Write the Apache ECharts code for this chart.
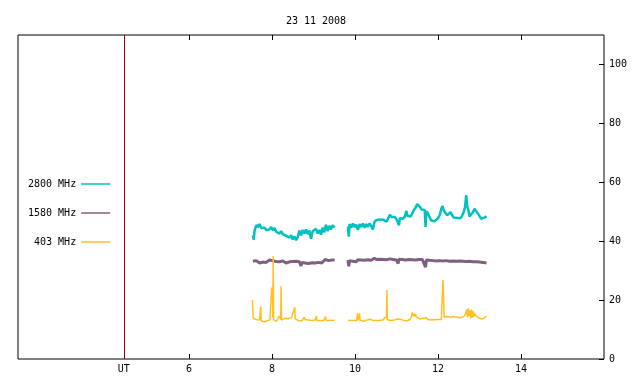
<!DOCTYPE html>
<html>
<head>
<meta charset="utf-8">
<script src="https://cdn.jsdelivr.net/npm/echarts@6/dist/echarts.min.js"></script>
<style>
html, body { margin: 0; padding: 0; background: #fff; }
#chart { width: 640px; height: 384px; }
</style>
</head>
<body>
<div id="chart"></div>
<script>
// hours UT, flux values
var title = "23 11 2008";
var names = ["2800 MHz", "1580 MHz", "403 MHz"];
var xTicks = [6, 8, 10, 12, 14];
var yTicks = [0, 20, 40, 60, 80, 100];
var utHour = 4.43;

var cyan1 = [[7.54,42.0],[7.56,40.5],[7.58,43.5],[7.60,44.5],[7.63,45.5],[7.66,44.8],[7.70,45.8],[7.74,44.5],[7.78,44.0],[7.82,44.6],[7.86,43.8],[7.90,44.4],[7.94,44.0],[7.98,44.8],[8.02,43.6],[8.06,44.5],[8.10,43.2],[8.14,43.8],[8.18,42.6],[8.22,43.4],[8.26,42.4],[8.30,42.8],[8.34,41.8],[8.38,42.4],[8.42,41.2],[8.46,42.0],[8.50,40.6],[8.54,41.6],[8.58,40.3],[8.62,41.4],[8.66,43.6],[8.70,42.0],[8.74,43.8],[8.78,42.6],[8.82,44.0],[8.86,42.4],[8.90,43.6],[8.94,40.8],[8.98,43.4],[9.02,43.0],[9.06,44.2],[9.10,42.6],[9.14,43.8],[9.18,42.2],[9.22,44.6],[9.26,43.0],[9.30,45.6],[9.34,43.4],[9.38,45.2],[9.42,44.0],[9.46,45.4],[9.51,44.6]];
var cyan2 = [[9.83,45.0],[9.85,41.5],[9.87,45.8],[9.91,44.6],[9.95,46.0],[9.99,44.8],[10.03,45.6],[10.07,43.8],[10.11,45.8],[10.15,44.8],[10.19,46.0],[10.23,44.6],[10.27,45.8],[10.31,44.9],[10.35,46.0],[10.39,45.2],[10.43,44.0],[10.47,46.6],[10.52,47.2],[10.56,46.6],[10.60,47.4],[10.64,46.8],[10.68,47.3],[10.72,47.0],[10.76,46.6],[10.80,47.8],[10.84,49.0],[10.88,48.2],[10.92,47.6],[10.96,48.2],[11.00,47.4],[11.04,48.0],[11.06,45.4],[11.08,47.8],[11.12,48.2],[11.16,47.6],[11.20,48.4],[11.24,50.3],[11.26,48.6],[11.30,49.0],[11.34,48.4],[11.38,49.4],[11.42,50.6],[11.46,51.4],[11.50,52.6],[11.54,53.0],[11.57,51.6],[11.60,50.8],[11.64,50.2],[11.68,50.6],[11.70,44.8],[11.72,50.2],[11.76,49.4],[11.80,48.0],[11.84,47.0],[11.88,47.6],[11.92,46.8],[11.96,47.4],[12.00,47.8],[12.04,48.8],[12.08,51.0],[12.11,51.9],[12.14,50.4],[12.18,49.6],[12.22,48.8],[12.26,49.4],[12.30,49.9],[12.34,48.8],[12.38,48.0],[12.42,47.6],[12.46,47.9],[12.50,47.4],[12.54,47.8],[12.58,48.6],[12.62,49.9],[12.65,51.4],[12.68,55.6],[12.70,52.2],[12.73,50.6],[12.76,48.4],[12.80,48.8],[12.84,49.8],[12.88,51.0],[12.92,50.2],[12.96,49.6],[13.00,48.6],[13.04,47.6],[13.08,47.2],[13.12,48.0],[13.17,48.4]];

var purple1 = [[7.54,33.2],[7.58,32.8],[7.62,33.4],[7.66,33.0],[7.70,32.6],[7.74,33.2],[7.78,32.9],[7.82,33.3],[7.86,32.8],[7.90,33.0],[7.94,33.6],[7.98,33.9],[8.02,33.4],[8.06,33.8],[8.10,33.1],[8.14,32.6],[8.18,33.0],[8.22,32.8],[8.26,33.3],[8.30,33.0],[8.34,32.6],[8.38,33.2],[8.42,33.0],[8.46,32.5],[8.50,33.1],[8.54,32.7],[8.58,33.2],[8.62,32.6],[8.66,33.0],[8.70,31.6],[8.72,32.8],[8.76,33.1],[8.80,32.6],[8.84,33.0],[8.88,32.4],[8.92,33.0],[8.96,32.7],[9.00,33.2],[9.04,32.6],[9.08,33.0],[9.12,32.8],[9.16,33.2],[9.20,32.6],[9.24,33.0],[9.28,33.8],[9.32,34.0],[9.36,33.4],[9.40,33.9],[9.44,33.6],[9.48,34.0],[9.51,33.6]];
var purple2 = [[9.83,33.6],[9.85,31.5],[9.87,33.4],[9.91,33.8],[9.95,33.2],[9.99,33.6],[10.03,33.0],[10.07,33.7],[10.11,33.2],[10.15,33.6],[10.19,33.0],[10.23,33.5],[10.27,33.2],[10.31,33.7],[10.35,33.1],[10.39,33.5],[10.43,34.0],[10.47,34.2],[10.52,33.8],[10.56,34.1],[10.60,33.9],[10.64,34.2],[10.68,33.8],[10.72,34.1],[10.76,33.7],[10.80,34.2],[10.84,34.0],[10.88,34.3],[10.92,33.8],[10.96,34.1],[11.00,33.6],[11.04,32.4],[11.06,33.9],[11.10,34.2],[11.14,33.8],[11.18,34.0],[11.22,33.6],[11.26,34.1],[11.30,33.8],[11.34,34.2],[11.38,33.7],[11.42,34.0],[11.46,33.6],[11.50,34.1],[11.54,33.8],[11.58,33.4],[11.62,33.8],[11.66,33.3],[11.70,31.2],[11.72,33.6],[11.76,33.2],[11.80,33.5],[11.84,33.0],[11.88,33.4],[11.92,32.8],[11.96,33.3],[12.00,33.0],[12.04,33.4],[12.08,32.9],[12.12,33.3],[12.16,33.0],[12.20,33.4],[12.24,32.8],[12.28,33.2],[12.32,33.0],[12.36,33.3],[12.40,32.8],[12.44,33.2],[12.48,32.9],[12.52,33.3],[12.56,33.0],[12.60,33.2],[12.64,32.7],[12.68,33.1],[12.72,32.9],[12.76,33.2],[12.80,32.8],[12.84,33.0],[12.88,32.6],[12.92,33.0],[12.96,32.7],[13.00,32.9],[13.04,32.5],[13.08,32.8],[13.12,32.4],[13.17,32.6]];

var orange1 = [[7.53,20.0],[7.545,14.0],[7.57,13.6],[7.61,13.4],[7.65,13.6],[7.70,13.2],[7.72,16.8],[7.73,17.8],[7.74,13.0],[7.78,12.8],[7.82,12.6],[7.84,12.4],[7.87,12.9],[7.91,13.1],[7.95,13.3],[7.98,13.6],[7.99,23.6],[8.01,24.4],[8.02,14.0],[8.03,35.0],[8.04,13.4],[8.07,13.0],[8.11,12.8],[8.14,13.2],[8.17,14.6],[8.19,14.8],[8.21,13.4],[8.22,24.7],[8.23,13.2],[8.27,13.6],[8.31,13.8],[8.35,13.9],[8.39,13.7],[8.43,13.6],[8.47,14.0],[8.51,13.8],[8.55,17.6],[8.56,13.6],[8.60,13.2],[8.64,13.0],[8.68,13.1],[8.72,13.0],[8.76,13.6],[8.78,14.2],[8.80,13.4],[8.84,13.0],[8.88,13.2],[8.92,13.0],[8.96,13.1],[9.00,12.9],[9.04,13.2],[9.07,14.6],[9.08,13.1],[9.12,13.0],[9.16,13.1],[9.20,12.9],[9.24,13.0],[9.29,14.4],[9.30,13.2],[9.35,13.1],[9.40,13.2],[9.45,13.1],[9.51,13.2]];
var orange2 = [[9.83,13.2],[9.85,12.6],[9.88,13.1],[9.92,13.2],[9.96,13.1],[10.00,13.2],[10.04,13.1],[10.06,15.5],[10.07,13.2],[10.11,15.5],[10.12,13.2],[10.16,13.1],[10.20,12.8],[10.24,13.1],[10.28,13.2],[10.32,13.1],[10.36,13.5],[10.40,13.2],[10.44,13.1],[10.48,13.2],[10.52,13.1],[10.56,13.2],[10.60,13.1],[10.64,13.2],[10.68,13.3],[10.71,14.0],[10.76,14.2],[10.77,23.4],[10.78,13.3],[10.82,13.2],[10.86,13.1],[10.90,13.3],[10.94,13.2],[10.98,13.4],[11.02,13.6],[11.06,14.2],[11.08,13.5],[11.12,13.4],[11.16,13.2],[11.20,13.4],[11.24,12.9],[11.28,13.2],[11.32,13.4],[11.36,14.2],[11.38,15.8],[11.40,14.6],[11.42,15.4],[11.44,14.4],[11.46,15.2],[11.48,14.2],[11.52,14.6],[11.56,13.6],[11.60,13.3],[11.64,13.8],[11.68,13.4],[11.72,14.0],[11.76,13.3],[11.80,13.6],[11.84,13.4],[11.88,13.9],[11.92,13.3],[11.96,13.5],[12.00,13.4],[12.04,13.6],[12.08,13.4],[12.11,14.0],[12.12,26.8],[12.14,26.6],[12.15,14.2],[12.18,13.8],[12.22,14.4],[12.26,13.9],[12.30,14.2],[12.34,13.8],[12.38,14.4],[12.42,13.9],[12.46,14.2],[12.50,13.8],[12.54,14.0],[12.58,13.7],[12.62,14.4],[12.66,15.2],[12.69,16.8],[12.71,14.2],[12.73,17.2],[12.75,14.6],[12.77,16.4],[12.79,13.8],[12.81,16.8],[12.83,14.0],[12.85,16.2],[12.87,14.4],[12.89,15.4],[12.92,14.6],[12.96,14.2],[13.00,13.8],[13.04,13.2],[13.08,13.6],[13.12,13.8],[13.17,14.6]];

var gap = [[9.66, '-']];
var colors = ['#00c0c0', '#806080', '#ffc020'];
var widths = [2.5, 3, 1.5];
var FONT = 'DejaVu Sans Mono';

function mkSeries(i, data, extra) {
    var s = {
        name: names[i],
        type: 'line',
        data: data,
        symbol: 'none',
        connectNulls: false,
        color: colors[i],
        lineStyle: { width: widths[i], color: colors[i] },
        emphasis: { disabled: true },
        z: 3
    };
    if (extra) s.markLine = extra;
    return s;
}

var chart = echarts.init(document.getElementById('chart'));
chart.setOption({
    animation: false,
    backgroundColor: '#fff',
    textStyle: { fontFamily: FONT },
    title: {
        text: title,
        left: 311,
        textAlign: 'center',
        top: 11,
        textStyle: { fontFamily: FONT, fontSize: 10, fontWeight: 'normal', color: '#000' }
    },
    legend: {
        data: names,
        orient: 'vertical',
        align: 'right',
        left: 28,
        top: 179,
        padding: 0,
        icon: 'rect',
        itemWidth: 29,
        itemHeight: 1.5,
        itemGap: 19,
        formatter: function (n) { return ('        ' + n).slice(-8); },
        textStyle: { fontFamily: FONT, fontSize: 10, color: '#000' },
        selectedMode: false
    },
    grid: {
        left: 18, right: 36, top: 35, bottom: 25,
        show: true, borderColor: '#000', borderWidth: 1, backgroundColor: 'transparent'
    },
    xAxis: [{
        type: 'value',
        min: 1.88, max: 16,
        position: 'bottom',
        axisLine: { show: false },
        splitLine: { show: false },
        axisTick: { inside: true, length: 5, lineStyle: { color: '#000' }, customValues: xTicks },
        axisLabel: {
            customValues: [utHour].concat(xTicks),
            formatter: function (v) { return v < 5 ? 'UT' : String(v); },
            margin: 5, fontFamily: FONT, fontSize: 10, color: '#000'
        }
    }, {
        type: 'value',
        min: 1.88, max: 16,
        position: 'top',
        axisLine: { show: false },
        splitLine: { show: false },
        axisTick: { inside: true, length: 5, lineStyle: { color: '#000' }, customValues: xTicks },
        axisLabel: { show: false }
    }],
    yAxis: {
        type: 'value',
        min: 0, max: 110,
        position: 'right',
        axisLine: { show: false },
        splitLine: { show: false },
        axisTick: { inside: true, length: 5, lineStyle: { color: '#000' }, customValues: yTicks },
        axisLabel: { customValues: yTicks, margin: 5, fontFamily: FONT, fontSize: 10, color: '#000' }
    },
    series: [
        mkSeries(0, cyan1.concat(gap, cyan2), {
            silent: true,
            symbol: 'none',
            label: { show: false },
            lineStyle: { color: '#990000', type: 'solid', width: 1 },
            data: [{ xAxis: utHour }]
        }),
        mkSeries(1, purple1.concat(gap, purple2)),
        mkSeries(2, orange1.concat(gap, orange2))
    ]
});
</script>
</body>
</html>
